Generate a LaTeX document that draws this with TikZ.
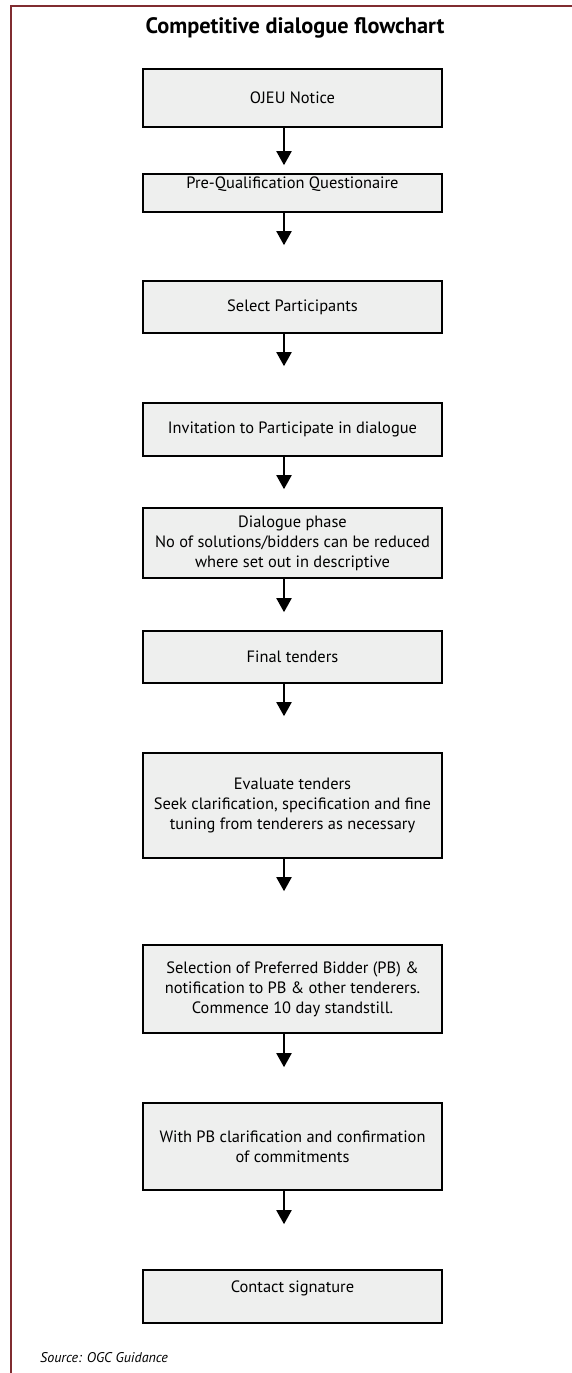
\documentclass[tikz,border=0pt]{standalone}
\usepackage{fontspec}
\setmainfont{PT Sans}
\usepackage{tikz}
\usetikzlibrary{arrows.meta,positioning}
\definecolor{rougeCadre}{RGB}{128,44,48}
\definecolor{grisBoite}{RGB}{238,239,238}

\begin{document}
\begin{tikzpicture}[font=\fontsize{9.35}{11.4}\selectfont,
  etape/.style={rectangle,minimum width=5.98cm,inner xsep=2pt,align=center,
              draw=black,line width=0.9pt,fill=grisBoite},
  fleche/.style={black,line width=1.1pt,-{Triangle[width=0.3cm,length=0.28cm]}}]

  \useasboundingbox (0,0) rectangle (11.44,27.46);
  \draw[rougeCadre,line width=1.1pt] (0.22,0)--(0.22,27.34)--(11.5,27.34);

  \node[font=\fontsize{12.7}{14}\selectfont\bfseries] (titre) at (5.90,26.90)
    {Competitive dialogue flowchart};

  \node[etape,minimum height=1.16cm] (ojeu)      at (5.85,25.50) {OJEU Notice};
  \node[etape,inner ysep=0pt,text height=0.29cm,text depth=0.47cm]
                                     (pqq)       at (5.85,23.60) {Pre-Qualification Questionaire};
  \node[etape,minimum height=1.04cm] (select)    at (5.85,21.32) {Select Participants};
  \node[etape,minimum height=1.06cm] (invite)    at (5.85,18.87) {Invitation to Participate in dialogue};
  \node[etape,minimum height=1.40cm] (dialogue)  at (5.85,16.60)
    {Dialogue phase\\No of solutions/bidders can be reduced\\where set out in descriptive};
  \node[etape,minimum height=1.04cm] (final)     at (5.85,14.32) {Final tenders};
  \node[etape,minimum height=2.10cm] (evaluate)  at (5.85,11.35)
    {Evaluate tenders\\Seek clarification, specification and fine\\tuning from tenderers as necessary};
  \node[etape,minimum height=1.76cm] (preferred) at (5.85,7.68)
    {Selection of Preferred Bidder (PB) \&\\notification to PB \& other tenderers.\\Commence 10 day standstill.};
  \node[etape,minimum height=1.74cm] (confirm)   at (5.85,4.53)
    {With PB clarification and confirmation\\of commitments};
  \node[etape,inner ysep=0pt,text height=0.45cm,text depth=0.61cm]
                                     (contract)  at (5.85,1.53) {Contact signature};

  \foreach \a/\b/\g in {ojeu/pqq/0.16,pqq/select/0.70,select/invite/0.72,
                        invite/dialogue/0.36,dialogue/final/0.36,final/evaluate/0.72,
                        evaluate/preferred/1.06,preferred/confirm/0.70,confirm/contract/0.90} {
    \draw[fleche,shorten >=\g cm] ([xshift=-0.17cm]\a.south)--([xshift=-0.17cm]\b.north);
  }

  \node[anchor=west,font=\fontsize{8}{9}\selectfont\itshape] (source) at (0.68,0.30)
    {Source: OGC Guidance};
\end{tikzpicture}
\end{document}
